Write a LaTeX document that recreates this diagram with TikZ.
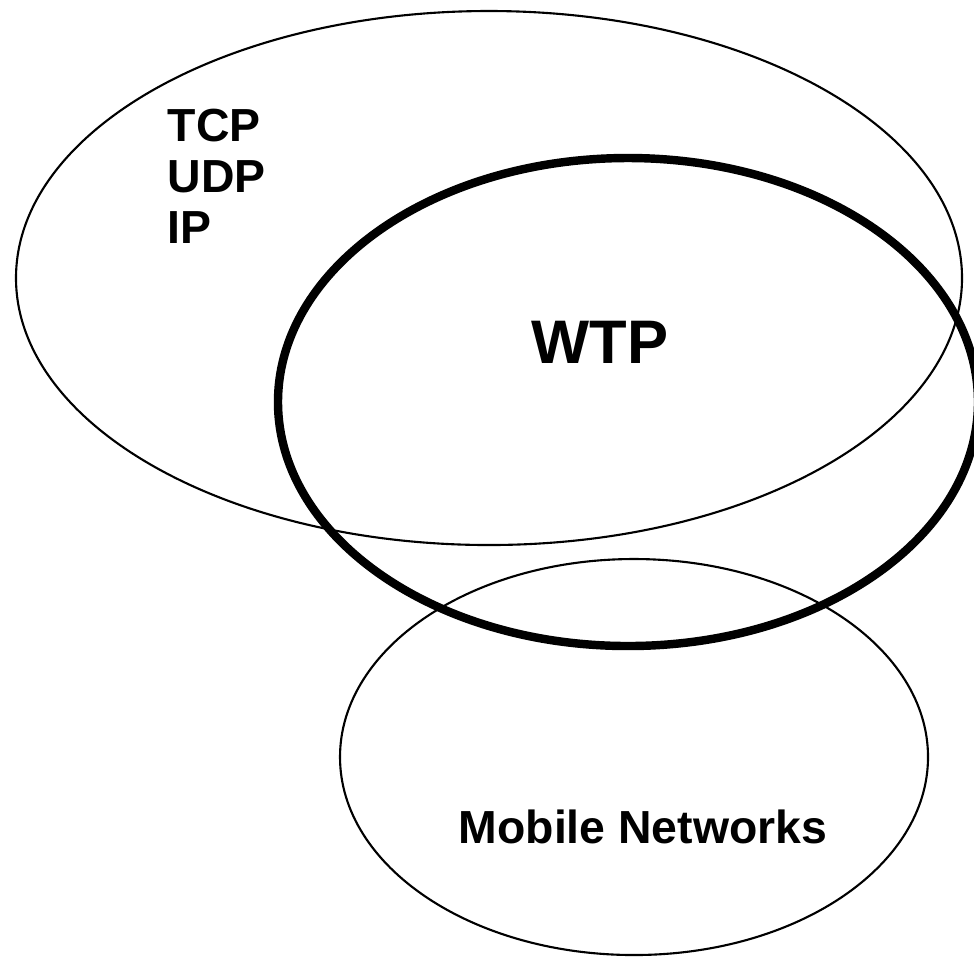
\documentclass[tikz,border=0pt]{standalone}
\usepackage{fontspec}
\setmainfont{Liberation Sans}
\usepackage{tikz}
\usetikzlibrary{positioning}
\tikzset{
    venn/.style={draw=black, line width=0.6pt},
    wtpring/.style={draw=black, line width=2.4pt},
    tag/.style={inner sep=0pt, font=\fontsize{13.2pt}{14.6pt}\selectfont\bfseries, align=left},
    bigtag/.style={inner sep=0pt, font=\fontsize{17.5pt}{20pt}\selectfont\bfseries}
}
\begin{document}
\begin{tikzpicture}
    \useasboundingbox (0,0) rectangle (9.74,-9.69);
    \clip (0,0) rectangle (9.74,-9.69);
    % Sets
    \draw[venn] (4.89,-2.78) ellipse [x radius=4.73cm, y radius=2.67cm];
    \draw[venn] (6.34,-7.57) ellipse [x radius=2.94cm, y radius=1.98cm];
    \draw[wtpring] (6.28,-4.02) ellipse [x radius=3.50cm, y radius=2.44cm];

    % Labels
    \node[tag, anchor=north west] (Inet) at (1.67,-1.08) {TCP\\UDP\\IP};
    \node[bigtag, anchor=base] (Wtp) at (6.00,-3.63) {WTP};
    \node[tag, anchor=base] (Mob) at (6.43,-8.43) {Mobile Networks};
\end{tikzpicture}
\end{document}
